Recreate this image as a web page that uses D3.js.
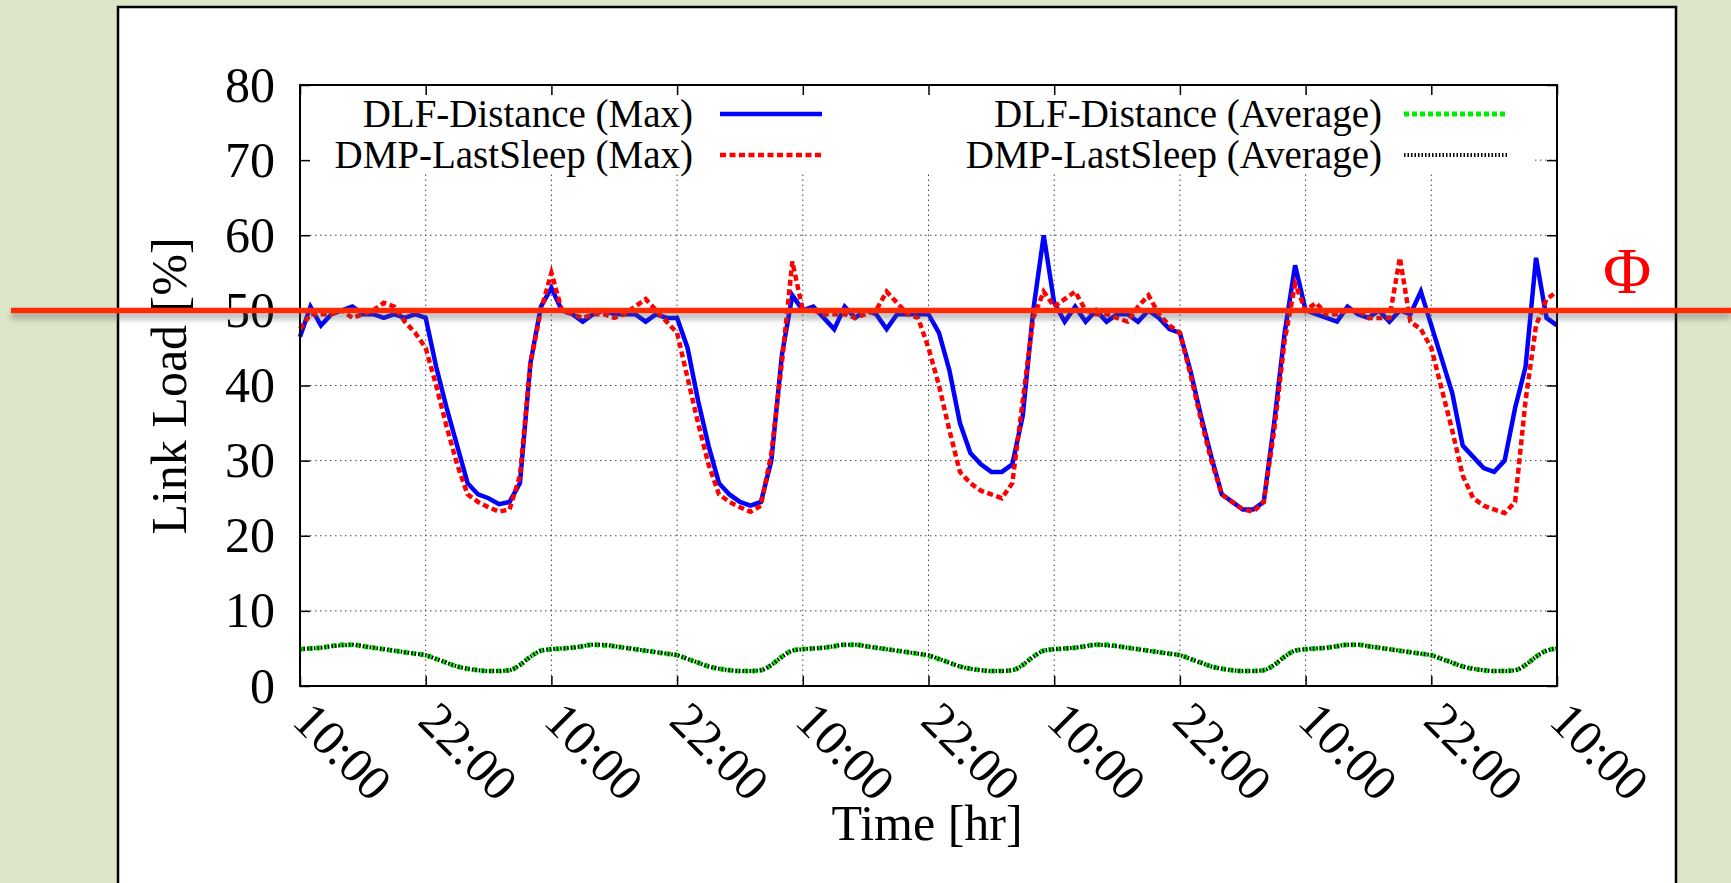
<!DOCTYPE html>
<html>
<head>
<meta charset="utf-8">
<script src="https://cdn.jsdelivr.net/npm/d3@7"></script>
<style>
  html, body { margin: 0; padding: 0; background: #dee6c9; overflow: hidden; }
  svg { display: block; }
  text { font-family: "Liberation Serif", "Times New Roman", serif; fill: #000; }
</style>
</head>
<body>
<svg id="chart" width="1731" height="883"></svg>
<script>
// hourly samples, starting at 10:00 on day one
const tickHours = [0, 12, 24, 36, 48, 60, 72, 84, 96, 108, 120];
const tickLabels = ["10:00", "22:00", "10:00", "22:00", "10:00", "22:00", "10:00", "22:00", "10:00", "22:00", "10:00"];
const yTicks = [0, 10, 20, 30, 40, 50, 60, 70, 80];

const dlfMax = [
  46.5, 50.5, 48, 49.5, 50, 50.5, 49.5, 49.5, 49, 49.5, 49, 49.5, 49,
  42.5, 37, 32, 27, 25.5, 25, 24.2, 24.5, 27, 43, 50.5, 53,
  50, 49.5, 48.5, 49.5, 50, 49.5, 49.5, 49.5, 48.5, 49.5, 49, 49,
  45, 38, 32, 27, 25.5, 24.5, 24, 24.5, 30, 44, 52, 50,
  50.5, 49, 47.5, 50.5, 49, 50, 49.5, 47.5, 49.5, 49.5, 49.5, 49.5,
  47, 42, 35, 31, 29.5, 28.5, 28.5, 29.5, 36, 50, 60, 51,
  48.5, 50.5, 48.5, 50, 48.5, 49.5, 49.5, 48.5, 50, 49, 47.5, 47,
  42, 36, 30.5, 25.5, 24.5, 23.5, 23.5, 24.5, 35, 47, 56, 50,
  49.5, 49, 48.5, 50.5, 49.5, 49, 50, 48.5, 50, 49.5, 52.5, 48,
  43.5, 39, 32, 30.5, 29, 28.5, 30, 37, 42.5, 57, 49, 48
];

const dmpMax = [
  47.5, 49.5, 49.5, 49.5, 50, 49, 49.5, 50, 51, 50.5, 48.5, 47, 45,
  40, 34.5, 29.5, 25.5, 24.5, 23.8, 23.2, 23.5, 28, 43, 50, 55,
  50, 49.5, 49, 49.5, 49.5, 49, 49.5, 50.5, 51.5, 50, 48.5, 47,
  41, 35, 29.5, 25.5, 24.5, 23.8, 23.2, 24, 31, 43, 56.5, 50,
  50, 49.5, 49.5, 49.5, 49, 49.5, 50, 52.5, 51, 49.5, 49, 45,
  40, 34, 28.5, 27, 26, 25.5, 25, 27, 38, 49, 52.5, 50.5,
  51.5, 52.5, 50, 49.5, 49.5, 49, 48.5, 50.5, 52, 49.5, 48, 47,
  41.5, 35.5, 30, 25.5, 24.5, 23.5, 23.2, 24.5, 34, 46, 53.5, 50,
  51, 49.5, 49.5, 50, 50, 49, 49, 49, 57, 48.5, 47.5, 45,
  39.5, 34, 28, 25, 24, 23.5, 23, 24.5, 38, 48, 51.5, 52.5
];

const dlfAvg = [
  4.9, 5.0, 5.1, 5.3, 5.5, 5.5, 5.3, 5.1, 4.9, 4.7, 4.5, 4.3, 4.1,
  3.6, 3.1, 2.6, 2.3, 2.1, 2.0, 2.0, 2.1, 2.8, 3.9, 4.7, 4.9,
  5.0, 5.1, 5.3, 5.5, 5.4, 5.3, 5.1, 4.9, 4.7, 4.5, 4.3, 4.1,
  3.6, 3.1, 2.6, 2.3, 2.1, 2.0, 2.0, 2.1, 2.8, 3.9, 4.7, 4.9,
  5.0, 5.1, 5.3, 5.5, 5.5, 5.3, 5.1, 4.9, 4.7, 4.5, 4.3, 4.0,
  3.6, 3.1, 2.6, 2.3, 2.1, 2.0, 2.0, 2.1, 2.8, 3.9, 4.7, 4.9,
  5.0, 5.1, 5.3, 5.5, 5.5, 5.3, 5.1, 4.9, 4.7, 4.5, 4.3, 4.1,
  3.6, 3.1, 2.6, 2.3, 2.1, 2.0, 2.0, 2.1, 2.8, 3.9, 4.7, 4.9,
  5.0, 5.1, 5.3, 5.5, 5.5, 5.3, 5.1, 4.9, 4.7, 4.5, 4.3, 4.1,
  3.6, 3.1, 2.6, 2.3, 2.1, 2.0, 2.0, 2.1, 2.8, 3.9, 4.7, 5.0
];

const dmpAvg = [
  4.9, 5.0, 5.1, 5.3, 5.4, 5.5, 5.3, 5.1, 4.9, 4.7, 4.5, 4.3, 4.1,
  3.6, 3.1, 2.6, 2.3, 2.1, 2.0, 2.0, 2.1, 2.8, 3.9, 4.7, 4.9,
  5.0, 5.1, 5.3, 5.5, 5.5, 5.3, 5.1, 4.9, 4.7, 4.5, 4.3, 4.1,
  3.6, 3.1, 2.6, 2.3, 2.1, 2.0, 2.0, 2.1, 2.8, 3.9, 4.7, 4.9,
  5.0, 5.1, 5.3, 5.5, 5.5, 5.3, 5.1, 4.9, 4.7, 4.5, 4.3, 4.1,
  3.6, 3.1, 2.6, 2.3, 2.1, 2.0, 2.0, 2.1, 2.8, 3.9, 4.7, 4.9,
  5.0, 5.1, 5.3, 5.5, 5.4, 5.3, 5.1, 4.9, 4.7, 4.5, 4.3, 4.1,
  3.6, 3.1, 2.6, 2.3, 2.1, 2.0, 2.0, 2.1, 2.8, 3.9, 4.7, 4.9,
  5.0, 5.1, 5.3, 5.5, 5.5, 5.3, 5.1, 4.9, 4.7, 4.5, 4.3, 4.1,
  3.6, 3.1, 2.6, 2.3, 2.1, 2.0, 2.0, 2.1, 2.8, 3.9, 4.7, 5.0
];

const threshold = 50;

const svg = d3.select("#chart");

// plot box
const pLeft = 300, pRight = 1557, pTop = 85, pBottom = 686;
const x = d3.scaleLinear().domain([0, 120]).range([pLeft, pRight]);
const y = d3.scaleLinear().domain([0, 80]).range([pBottom, pTop]);

// drop shadow for the threshold line
const defs = svg.append("defs");
const shadow = defs.append("filter").attr("id", "shadow")
  .attr("filterUnits", "userSpaceOnUse")
  .attr("x", 0).attr("y", 290).attr("width", 1731).attr("height", 45);
shadow.append("feDropShadow")
  .attr("dx", 0).attr("dy", 5).attr("stdDeviation", 3)
  .attr("flood-color", "#555").attr("flood-opacity", 0.55);

// white panel
svg.append("rect")
  .attr("x", 118).attr("y", 7)
  .attr("width", 1558).attr("height", 920)
  .attr("fill", "#fff").attr("stroke", "#000").attr("stroke-width", 2.5);

// grid
const legendBottom = 174, legendRight = 1533;
const grid = svg.append("g").attr("stroke", "#444").attr("stroke-width", 1).attr("stroke-dasharray", "1.5,3.5");
grid.selectAll(".gy").data(yTicks.filter(d => d > 0 && d < 80)).enter().append("line")
  .attr("x1", pLeft).attr("x2", pRight)
  .attr("y1", d => y(d)).attr("y2", d => y(d));
grid.selectAll(".gx").data(tickHours.filter(d => d > 0 && d < 120)).enter().append("line")
  .attr("x1", d => x(d)).attr("x2", d => x(d))
  .attr("y1", pBottom).attr("y2", legendBottom);

// opaque key area
svg.append("rect")
  .attr("x", pLeft + 1).attr("y", pTop + 1)
  .attr("width", legendRight - pLeft - 1).attr("height", legendBottom - pTop - 1)
  .attr("fill", "#fff");

// axes (gnuplot style inward ticks on all four sides)
const fontTick = 50;
const yAxis = svg.append("g").attr("transform", `translate(${pLeft},0)`)
  .call(d3.axisLeft(y).tickValues(yTicks).tickSize(-10).tickPadding(25));
yAxis.selectAll("text").attr("font-size", fontTick).attr("dy", "0.32em")
  .style("font-family", "Liberation Serif, Times New Roman, serif");

svg.append("g").attr("transform", `translate(${pRight},0)`)
  .call(d3.axisRight(y).tickValues(yTicks).tickSize(-10).tickFormat(""));
svg.append("g").attr("transform", `translate(0,${pTop})`)
  .call(d3.axisTop(x).tickValues(tickHours).tickSize(-10).tickFormat(""));

const xAxis = svg.append("g").attr("transform", `translate(0,${pBottom})`)
  .call(d3.axisBottom(x).tickValues(tickHours).tickSize(-10).tickFormat((d, i) => tickLabels[i]));
xAxis.selectAll("text")
  .attr("font-size", fontTick)
  .attr("x", 0).attr("y", 0).attr("dy", 0)
  .attr("transform", "translate(-10,37) rotate(45)")
  .style("text-anchor", "start")
  .style("font-family", "Liberation Serif, Times New Roman, serif");

svg.selectAll(".domain").remove();
svg.selectAll(".tick line").attr("stroke", "#000").attr("stroke-width", 1.5);

// data lines
const line = d3.line().x((d, i) => x(i)).y(d => y(d));
const smooth = d3.line().x((d, i) => x(i)).y(d => y(d)).curve(d3.curveMonotoneX);

const series = [
  {name: "DLF-Distance (Max)", data: dlfMax, color: "#0000ff", width: 4.5, dash: null, gen: line},
  {name: "DMP-LastSleep (Max)", data: dmpMax, color: "#ff0000", width: 4.5, dash: "6,3.5", gen: line},
  {name: "DLF-Distance (Average)", data: dlfAvg, color: "#00ee00", width: 5, dash: "5,3", gen: smooth},
  {name: "DMP-LastSleep (Average)", data: dmpAvg, color: "#000000", width: 4, dash: "1.5,2", gen: smooth}
];

const plot = svg.append("g");
series.forEach(s => {
  plot.append("path")
    .attr("d", s.gen(s.data))
    .attr("fill", "none")
    .attr("stroke", s.color)
    .attr("stroke-width", s.width)
    .attr("stroke-dasharray", s.dash)
    .attr("stroke-linejoin", "miter");
});

// border
svg.append("rect")
  .attr("x", pLeft).attr("y", pTop)
  .attr("width", pRight - pLeft).attr("height", pBottom - pTop)
  .attr("fill", "none").attr("stroke", "#000").attr("stroke-width", 2);

// key
const keyPos = [
  {tx: 693, sx1: 720, sx2: 822, ty: 127, sy: 114},
  {tx: 693, sx1: 720, sx2: 822, ty: 168, sy: 155},
  {tx: 1382, sx1: 1404, sx2: 1507, ty: 127, sy: 114},
  {tx: 1382, sx1: 1404, sx2: 1507, ty: 168, sy: 155}
];
const key = svg.append("g");
series.forEach((s, i) => {
  const p = keyPos[i];
  key.append("text").attr("x", p.tx).attr("y", p.ty)
    .attr("text-anchor", "end").attr("font-size", 39).text(s.name);
  key.append("line").attr("x1", p.sx1).attr("x2", p.sx2).attr("y1", p.sy).attr("y2", p.sy)
    .attr("stroke", s.color).attr("stroke-width", s.width).attr("stroke-dasharray", s.dash);
});

// axis titles
svg.append("text")
  .attr("transform", "translate(186,386) rotate(-90)")
  .attr("text-anchor", "middle").attr("font-size", 50)
  .text("Link Load [%]");
svg.append("text")
  .attr("x", 927).attr("y", 840)
  .attr("text-anchor", "middle").attr("font-size", 50)
  .text("Time [hr]");

// threshold
svg.append("line")
  .attr("x1", 11).attr("x2", 1731)
  .attr("y1", y(threshold)).attr("y2", y(threshold))
  .attr("stroke", "#ff2a00").attr("stroke-width", 5.5)
  .attr("filter", "url(#shadow)");
svg.append("text")
  .attr("x", 1627).attr("y", 293)
  .attr("text-anchor", "middle").attr("font-size", 66)
  .style("fill", "#ff0000")
  .text("Φ");
</script>
</body>
</html>
